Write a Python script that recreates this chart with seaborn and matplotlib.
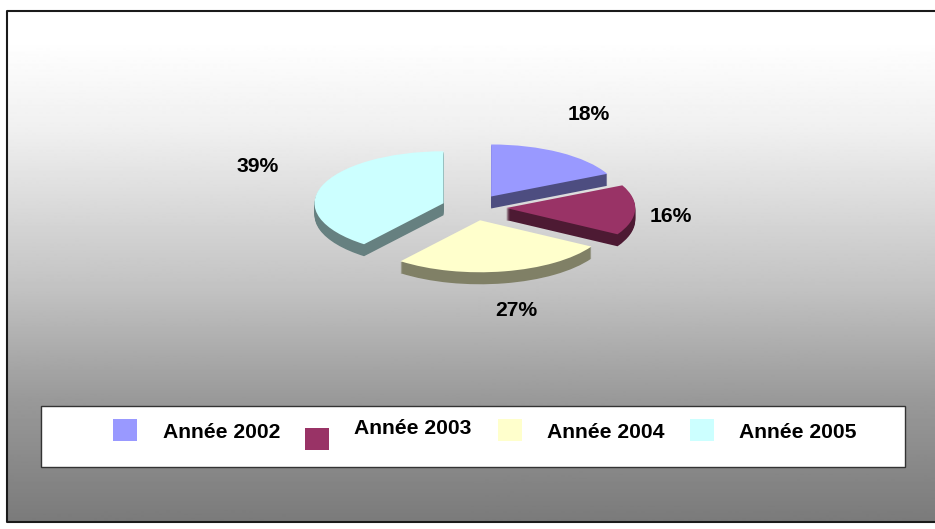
import numpy as np
import matplotlib
matplotlib.use("Agg")
import matplotlib.pyplot as plt
from matplotlib.patches import Rectangle
import seaborn as sns

# data
years = ["Année 2002", "Année 2003", "Année 2004", "Année 2005"]
shares = [17.8, 15.6, 27.1, 39.4]  # labels on the chart show these rounded
colors = ["#9999FF", "#993366", "#FFFFCC", "#CCFFFF"]

# layout, in pixels of the 935x529 picture
W, H = 935, 529
pie_cx, pie_cy = 474, 207.5
radius_x, radius_y = 129, 52
depth_px = 12
label_xy = [(589, 115), (671, 217), (516, 311), (258, 166)]
swatch_xy = [(113, 419), (305, 428), (498, 419), (690, 419)]
legend_text_xy = [(163, 433), (353.5, 429), (547, 433), (739, 433)]
draw_order = [0, 3, 1, 2]  # back slices first, 2003 sits over the 2002 side

sns.set_theme(style="white")
plt.rcParams["font.family"] = ["Liberation Sans", "DejaVu Sans"]
palette = sns.color_palette(colors)
sides = [tuple(c * 0.5 for c in col) for col in palette]

fig = plt.figure(figsize=(W / 100, H / 100), dpi=100, facecolor="white")

# 1. gradient background + frame
bg = fig.add_axes([0, 0, 1, 1], zorder=0)
bg.set_xlim(0, W)
bg.set_ylim(H, 0)
bg.axis("off")
rows = np.arange(11, 523)
grey = np.interp(rows, [11, 40, 130, 290, 400, 522], [1.0, 1.0, 0.94, 0.76, 0.60, 0.48])
bg.imshow(grey[:, None], cmap="gray", vmin=0, vmax=1, aspect="auto",
          extent=(7, W + 2, 522, 11))
bg.set_xlim(0, W)
bg.set_ylim(H, 0)
bg.plot([W + 2, 7, 7, W + 2], [11, 11, 522, 522], color="#1a1a1a", lw=1.5, clip_on=False)

# 2. pie, drawn as a stack of squashed pies to get the thickness
ax = fig.add_axes([0, 0, 1, 1], zorder=1)
ax.patch.set_alpha(0)
for d in range(depth_px, -1, -1):
    wedges, _ = ax.pie(
        shares,
        explode=[0.25] * 4,
        colors=palette if d == 0 else sides,
        startangle=90,
        counterclock=False,
        center=(0, -d / radius_y),
        wedgeprops={"linewidth": 0},
    )
    for i, w in enumerate(wedges):
        w.set_zorder(10 * draw_order.index(i) + 1 + (depth_px - d) * 0.1)
ax.set_aspect("auto")
ax.set_xlim(-pie_cx / radius_x, (W - pie_cx) / radius_x)
ax.set_ylim(-(H - pie_cy) / radius_y, pie_cy / radius_y)
ax.axis("off")

# 3. percentages and legend box
top = fig.add_axes([0, 0, 1, 1], zorder=2)
top.patch.set_alpha(0)
top.set_xlim(0, W)
top.set_ylim(H, 0)
top.axis("off")
for val, (x, y) in zip(shares, label_xy):
    top.text(x, y, f"{val:.0f}%", fontsize=15.2, fontweight="bold", color="black",
             ha="center", va="center")

top.add_patch(Rectangle((41, 406), 864, 61, facecolor="white", edgecolor="#333333", lw=1))
for name, col, (sx, sy), (tx, ty) in zip(years, palette, swatch_xy, legend_text_xy):
    top.add_patch(Rectangle((sx, sy), 24, 22, facecolor=col, edgecolor="none"))
    top.text(tx, ty, name, fontsize=15.2, fontweight="bold", color="black",
             ha="left", va="center")

fig.savefig("out.png", dpi=100)
